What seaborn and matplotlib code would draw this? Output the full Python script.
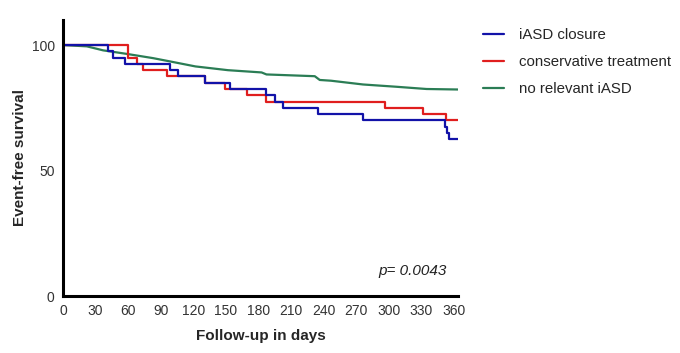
import numpy as np
import pandas as pd
import matplotlib
matplotlib.use("Agg")
import matplotlib.pyplot as plt
import seaborn as sns

# --- data ---
closure_days = [0, 41.7, 46.4, 57, 98.5, 106, 131, 154, 187.5, 195, 203, 235, 276.5, 352, 354, 356, 364]
closure_surv = [100, 97.5, 95, 92.5, 90, 87.5, 85, 82.5, 80, 77.5, 75, 72.5, 70, 67.5, 65, 62.5, 62.5]

conserv_days = [0, 60, 68, 74, 96, 131, 149, 170, 187.5, 296.5, 332, 353, 364]
conserv_surv = [100, 95, 92.5, 90, 87.5, 85, 82.5, 80, 77.5, 75, 72.5, 70, 70]

norel_days = [0, 22, 37, 58.6, 83, 98.5, 122, 152, 183, 187.5, 232, 236.6, 247, 276.5, 307, 335, 364]
norel_surv = [100, 99.5, 97.9, 96.5, 94.8, 93.5, 91.5, 90.0, 89.1, 88.3, 87.6, 86.1, 85.8, 84.3, 83.4, 82.5, 82.3]

labels = ["iASD closure", "conservative treatment", "no relevant iASD"]
colors = {"iASD closure": "#1212a8", "conservative treatment": "#e01e1e", "no relevant iASD": "#2b7d55"}

xticks = list(range(0, 361, 30))
yticks = [0, 50, 100]

df = pd.concat([
    pd.DataFrame({"day": closure_days, "surv": closure_surv, "group": labels[0]}),
    pd.DataFrame({"day": conserv_days, "surv": conserv_surv, "group": labels[1]}),
    pd.DataFrame({"day": norel_days, "surv": norel_surv, "group": labels[2]}),
])

sns.set_style("white")
plt.rcParams["font.family"] = ["Liberation Sans", "DejaVu Sans"]

fig = plt.figure(figsize=(6.8, 3.53), dpi=100)
ax = fig.add_axes([63 / 680, 1 - 296 / 353, (458 - 63) / 680, (296 - 20) / 353])

# draw order: green, red, blue (blue on top)
sns.lineplot(data=df[df.group == labels[2]], x="day", y="surv", color=colors[labels[2]],
             lw=1.6, estimator=None, sort=False, ax=ax, label=labels[2])
sns.lineplot(data=df[df.group == labels[1]], x="day", y="surv", color=colors[labels[1]],
             lw=1.6, estimator=None, sort=False, drawstyle="steps-post", ax=ax, label=labels[1])
sns.lineplot(data=df[df.group == labels[0]], x="day", y="surv", color=colors[labels[0]],
             lw=1.6, estimator=None, sort=False, drawstyle="steps-post", ax=ax, label=labels[0])

ax.set_xlim(0, 364)
ax.set_ylim(0, 110)
ax.set_xticks(xticks)
ax.set_yticks(yticks)
ax.set_xticklabels([str(t) for t in xticks])
ax.set_yticklabels([str(t) for t in yticks])

for s in ["top", "right"]:
    ax.spines[s].set_visible(False)
for s in ["left", "bottom"]:
    ax.spines[s].set_linewidth(2.2)
    ax.spines[s].set_color("black")

ax.tick_params(axis="both", direction="out", length=4, width=2, color="black",
               labelsize=10, labelcolor="#333333", pad=2)

ax.set_xlabel("Follow-up in days", fontsize=11, fontweight="bold", labelpad=8)
ax.set_ylabel("Event-free survival", fontsize=11, fontweight="bold", labelpad=3)

ax.text(0.972, 0.09, "p= 0.0043", transform=ax.transAxes, ha="right", va="center",
        fontsize=11, style="italic", color="#222222")

handles, labs = ax.get_legend_handles_labels()
order = [labs.index(l) for l in labels]
ax.get_legend().remove()
fig.legend([handles[i] for i in order], [labs[i] for i in order],
           loc="upper left", bbox_to_anchor=(0.691, 0.958), frameon=False,
           fontsize=10.8, handlelength=1.35, handletextpad=1.0, labelspacing=0.85)

fig.savefig("out.png", dpi=100)
